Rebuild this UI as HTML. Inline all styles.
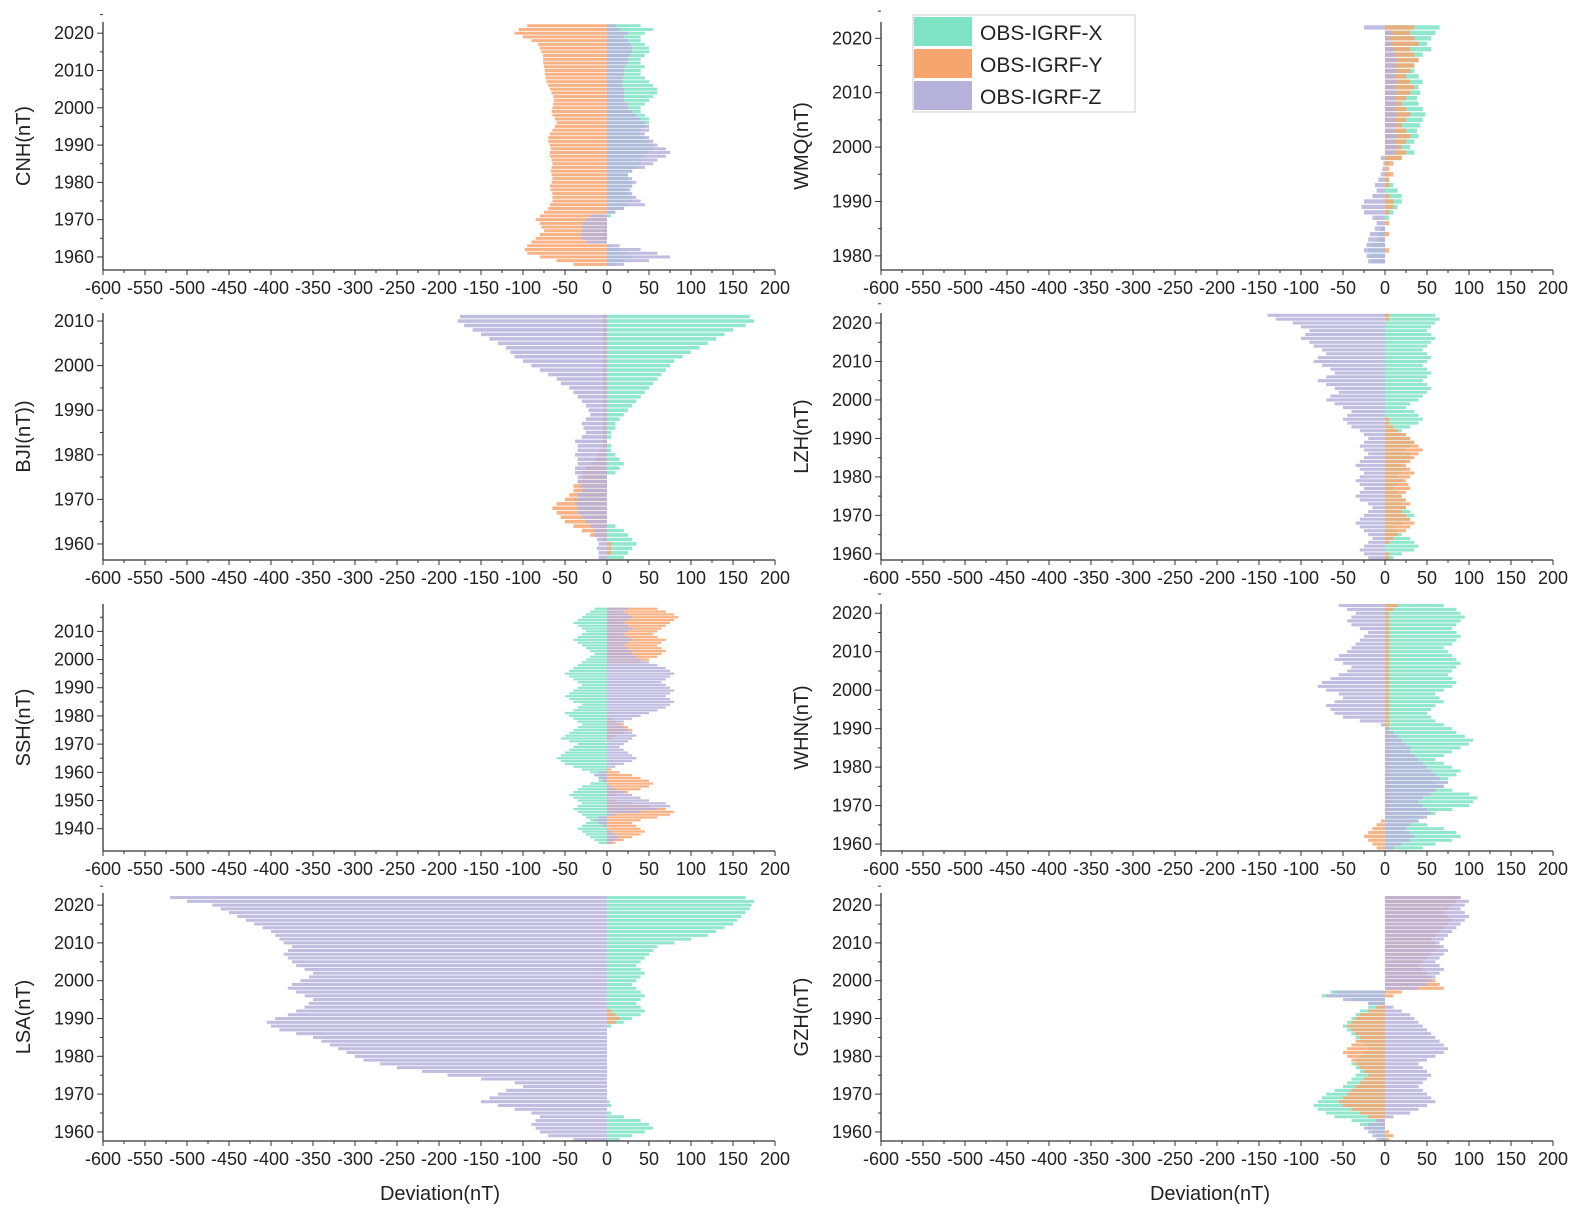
<!DOCTYPE html>
<html><head><meta charset="utf-8"><style>
html,body{margin:0;padding:0;background:#fff}
svg{display:block;font-family:"Liberation Sans",Arial,sans-serif}
</style></head><body>
<svg id="chart" width="1581" height="1229" viewBox="0 0 1581 1229" xmlns="http://www.w3.org/2000/svg">
<g id="legend">
<rect x="913" y="15" width="222" height="97" fill="#fff" stroke="#ccc" stroke-width="1"/>
<rect x="914" y="17" width="58" height="29" fill="#7de3c3"/>
<text x="980" y="40" font-size="21" fill="#222">OBS-IGRF-X</text>
<rect x="914" y="49" width="58" height="29" fill="#f7a56f"/>
<text x="980" y="72" font-size="21" fill="#222">OBS-IGRF-Y</text>
<rect x="914" y="81" width="58" height="29" fill="#b6b2dc"/>
<text x="980" y="104" font-size="21" fill="#222">OBS-IGRF-Z</text>
</g>
<text x="440" y="1200" font-size="20" text-anchor="middle" fill="#222">Deviation(nT)</text>
<text x="1210" y="1200" font-size="20" text-anchor="middle" fill="#222">Deviation(nT)</text>
</svg>
<script>
const xTicks = [-600,-550,-500,-450,-400,-350,-300,-250,-200,-150,-100,-50,0,50,100,150,200];

const cnhStart = 1958;
const cnhX = [10,20,30,25,15,5,0,-5,-5,-5,-5,0,0,5,10,20,25,30,30,25,25,30,30,25,25,30,35,40,40,45,50,55,55,50,45,40,40,45,50,50,45,40,40,45,50,55,60,60,55,50,45,40,40,45,40,40,45,50,50,45,40,40,45,55,40];
const cnhY = [-40,-60,-80,-95,-98,-95,-90,-85,-80,-75,-78,-80,-85,-80,-75,-70,-68,-65,-65,-65,-67,-68,-66,-65,-66,-67,-66,-65,-66,-68,-68,-67,-68,-70,-70,-68,-65,-62,-60,-62,-65,-66,-65,-64,-63,-64,-66,-68,-70,-72,-73,-74,-74,-75,-76,-76,-76,-78,-80,-82,-90,-100,-110,-105,-95];
const cnhZ = [20,50,75,60,40,15,-25,-30,-32,-30,-30,-28,-25,-20,10,20,45,40,35,30,28,30,35,30,25,30,45,55,60,70,75,70,60,55,50,45,50,50,45,40,35,30,25,25,20,20,20,20,18,18,18,20,20,22,25,25,28,30,30,28,25,20,25,15,10];

const wmqStart = 1979;
const wmqX = [-15,-18,-20,-15,-10,-8,-5,0,5,10,15,20,20,15,10,5,5,0,5,20,35,30,35,40,38,42,45,48,45,40,38,42,40,45,40,35,35,40,45,55,50,55,60,65];
const wmqY = [-5,0,5,0,-5,5,0,5,0,5,10,10,5,0,5,5,10,5,10,20,25,20,25,30,25,20,25,30,25,20,25,30,35,30,25,30,35,40,35,30,40,35,30,35];
const wmqZ = [-20,-22,-25,-22,-20,-18,-12,-10,-15,-25,-28,-25,-15,-10,-12,-8,-5,-3,-2,-5,12,14,12,14,12,14,12,14,12,14,12,14,12,14,12,14,12,14,12,10,8,5,8,-25];

const bjiStart = 1957;
const bjiX = [20,25,30,35,30,25,20,10,-10,-20,-30,-35,-38,-40,-35,-30,-20,-10,0,10,15,20,15,10,5,5,0,5,5,10,10,15,20,25,30,35,40,45,50,55,60,65,70,75,80,90,100,110,120,130,140,150,165,175,170];
const bjiY = [0,5,5,5,-5,-20,-30,-40,-50,-55,-60,-65,-60,-50,-45,-40,-40,-35,-30,-30,-25,-20,-15,-10,-8,-5,-5,-5,-5,-5,-5,-5,-5,-5,-5,-5,-5,-5,-5,-5,-5,-5,-5,-5,-5,-5,-5,-5,-5,-5,-5,-5,-5,-5,-5];
const bjiZ = [-10,-10,-12,-10,-12,-15,-15,-20,-25,-30,-35,-35,-38,-35,-35,-30,-32,-35,-35,-38,-38,-35,-35,-38,-35,-35,-38,-30,-25,-28,-30,-25,-20,-22,-25,-30,-35,-40,-45,-55,-60,-70,-80,-90,-100,-110,-115,-120,-130,-140,-150,-160,-170,-178,-175];

const lzhStart = 1959;
const lzhX = [10,20,35,40,35,30,20,15,10,20,30,35,30,25,20,25,20,15,10,15,20,15,20,25,20,25,30,30,25,30,35,30,25,20,30,40,45,40,35,25,30,40,45,50,55,50,45,50,55,50,45,50,55,50,45,50,55,60,55,50,55,60,65,60];
const lzhY = [5,5,0,0,5,10,15,25,30,35,30,25,20,25,30,25,20,25,30,28,25,30,35,30,25,30,35,40,45,40,35,30,25,15,10,5,5,0,0,0,0,0,0,0,0,0,0,0,0,0,0,0,0,0,0,0,0,0,0,0,0,0,5,5];
const lzhZ = [-20,-25,-30,-25,-20,-15,-20,-25,-30,-35,-30,-25,-20,-15,-20,-30,-35,-30,-25,-30,-35,-30,-25,-30,-35,-30,-25,-20,-25,-30,-25,-20,-25,-30,-40,-45,-50,-45,-40,-50,-60,-70,-65,-55,-60,-70,-80,-70,-60,-65,-75,-85,-80,-70,-75,-85,-90,-100,-95,-90,-100,-110,-130,-140];

const sshStart = 1935;
const sshX = [-10,-15,-20,-25,-30,-35,-30,-25,-20,-25,-30,-35,-40,-35,-30,-35,-40,-45,-40,-35,-30,-20,-10,-10,-15,-20,-30,-40,-50,-55,-60,-55,-50,-45,-40,-35,-45,-55,-50,-45,-40,-35,-30,-35,-40,-45,-50,-40,-35,-30,-40,-45,-50,-45,-40,-35,-30,-35,-40,-45,-50,-45,-40,-35,-30,-25,-20,-15,-20,-25,-30,-35,-40,-35,-30,-25,-30,-35,-40,-35,-30,-25,-20,-15];
const sshY = [10,20,30,40,45,40,35,30,40,60,75,80,70,50,30,10,0,10,25,40,50,55,50,40,30,15,5,0,0,0,0,0,0,0,0,0,0,5,10,20,30,25,20,10,5,0,0,0,0,0,0,0,0,0,0,0,0,0,0,0,0,0,0,0,40,50,60,65,70,65,60,65,70,60,55,60,65,70,75,80,85,80,70,60];
const sshZ = [5,10,15,10,5,0,-5,-10,-15,-10,10,40,60,75,70,50,40,30,20,10,5,0,-5,-10,-15,-10,0,10,20,30,35,30,25,20,15,20,25,30,35,30,25,20,15,20,30,40,50,60,70,75,80,75,70,75,80,75,70,65,70,75,80,75,70,60,50,40,35,30,30,25,20,25,30,25,20,25,30,25,20,25,30,25,20,25];

const whnStart = 1959;
const whnX = [45,60,80,90,85,70,50,40,45,60,80,100,105,110,100,80,70,60,75,85,90,80,70,60,70,80,90,100,105,95,85,80,70,60,55,50,55,60,70,65,60,70,80,85,80,75,80,85,90,85,80,75,70,80,85,90,85,80,85,90,95,90,85,70];
const whnY = [-10,-15,-20,-25,-20,-15,-10,-5,0,5,5,5,5,5,5,5,5,5,5,5,5,5,5,5,5,5,5,5,5,5,5,5,5,5,5,5,5,5,5,5,5,5,5,5,5,5,5,5,5,5,5,5,5,5,5,5,5,5,5,5,5,5,10,15];
const whnZ = [10,20,30,35,30,25,30,40,50,55,50,45,40,45,55,60,70,75,65,60,55,50,45,40,35,30,30,25,20,15,10,5,-5,-30,-50,-60,-65,-70,-60,-50,-55,-70,-80,-75,-65,-55,-45,-40,-50,-60,-55,-45,-40,-35,-30,-25,-20,-30,-40,-45,-40,-35,-45,-55];

const lsaStart = 1958;
const lsaX = [15,30,45,55,50,40,20,5,0,5,3,0,0,0,0,0,0,0,0,0,0,0,0,0,0,0,0,0,0,0,5,20,30,40,45,40,35,40,45,40,35,30,35,40,45,40,35,40,45,50,55,60,80,100,120,130,140,150,155,160,165,170,172,175,165];
const lsaY = [0,0,0,0,0,0,0,0,0,0,0,0,0,0,0,0,0,0,0,0,0,0,0,0,0,0,0,0,0,0,0,10,15,10,5,0,0,0,0,0,0,0,0,0,0,0,0,0,0,0,0,0,0,0,0,0,0,0,0,0,0,0,0,0,0];
const lsaZ = [-40,-70,-80,-85,-90,-85,-80,-90,-110,-130,-150,-140,-130,-120,-100,-110,-150,-190,-220,-250,-270,-290,-300,-310,-320,-330,-340,-350,-370,-390,-400,-405,-395,-380,-370,-360,-355,-350,-360,-370,-380,-375,-365,-355,-350,-360,-370,-375,-380,-385,-380,-375,-385,-390,-395,-400,-410,-420,-430,-440,-450,-460,-470,-500,-520];

const gzhStart = 1958;
const gzhX = [-5,-10,-15,-20,-30,-40,-60,-70,-80,-85,-80,-75,-70,-60,-50,-45,-40,-35,-30,-35,-40,-35,-30,-25,-20,-25,-30,-35,-40,-45,-50,-45,-40,-35,-30,-20,-20,-40,-75,-65,0,0,0,0,0,0,0,0,0,0,0,0,0,0,0,0,0,0,0,0,0,0,0,0,0];
const gzhY = [5,10,5,0,-5,-10,-20,-30,-40,-50,-55,-50,-45,-40,-35,-30,-25,-20,-25,-30,-35,-40,-45,-50,-45,-40,-35,-30,-35,-40,-45,-40,-35,-30,-20,-10,-5,0,10,20,70,65,60,55,50,45,40,45,50,55,60,65,60,55,60,65,70,75,80,75,70,75,80,85,90];
const gzhZ = [-10,-15,-20,-25,-20,-10,10,30,40,50,60,55,50,45,40,45,50,55,50,45,40,50,60,70,75,70,65,60,55,50,45,40,35,30,20,10,-20,-50,-70,-60,40,50,55,60,65,70,65,60,65,70,75,70,65,70,75,80,85,90,95,100,95,90,95,100,90];

const stations = ['CNH','WMQ','BJI','LZH','SSH','WHN','LSA','GZH'];
const yLabels = ['CNH(nT)','WMQ(nT)','BJI(nT))','LZH(nT)','SSH(nT)','WHN(nT)','LSA(nT)','GZH(nT)'];
const yearTicks = [[1960,1970,1980,1990,2000,2010,2020],[1980,1990,2000,2010,2020],[1960,1970,1980,1990,2000,2010],[1960,1970,1980,1990,2000,2010,2020],[1940,1950,1960,1970,1980,1990,2000,2010],[1960,1970,1980,1990,2000,2010,2020],[1960,1970,1980,1990,2000,2010,2020],[1960,1970,1980,1990,2000,2010,2020]];
const starts = [cnhStart,wmqStart,bjiStart,lzhStart,sshStart,whnStart,lsaStart,gzhStart];
const seriesX = [cnhX,wmqX,bjiX,lzhX,sshX,whnX,lsaX,gzhX];
const seriesY = [cnhY,wmqY,bjiY,lzhY,sshY,whnY,lsaY,gzhY];
const seriesZ = [cnhZ,wmqZ,bjiZ,lzhZ,sshZ,whnZ,lsaZ,gzhZ];

// layout (not data)
const layout = [
 {ax:103, top:22, bot:270, yb:1956.5, yt:2023.0},
 {ax:881, top:22, bot:270, yb:1977.4, yt:2023.0},
 {ax:103, top:313, bot:560, yb:1956.4, yt:2011.8},
 {ax:881, top:313, bot:560, yb:1958.4, yt:2022.6},
 {ax:103, top:604, bot:851, yb:1932.1, yt:2019.7},
 {ax:881, top:604, bot:851, yb:1958.2, yt:2022.4},
 {ax:103, top:893, bot:1141, yb:1957.6, yt:2023.2},
 {ax:881, top:893, bot:1141, yb:1957.6, yt:2023.2}
];
const colors = ['#7de3c3','#f7a56f','#b6b2dc'];
const comps = ['x','y','z'];
const NS = 'http://www.w3.org/2000/svg';
const svg = document.getElementById('chart');
const legend = document.getElementById('legend');
const pxPerNT = 0.84;

function mk(tag, attrs, parent){
  const e = document.createElementNS(NS, tag);
  for (const k in attrs) e.setAttribute(k, attrs[k]);
  parent.appendChild(e);
  return e;
}

stations.forEach((st, p) => {
  const L = layout[p];
  const g = mk('g', {}, svg);
  
  
  const xs = v => L.ax + (v + 600) * pxPerNT;
  const ys = yr => L.bot - (yr - L.yb) / (L.yt - L.yb) * (L.bot - L.top);
  const step = (L.bot - L.top) / (L.yt - L.yb);
  const th = Math.max(2, step * 0.8);
  const all = [seriesX[p], seriesY[p], seriesZ[p]];
  all.forEach((arr, c) => {
    arr.forEach((v, i) => {
      const yr = starts[p] + i;
      const x0 = xs(0), x1 = xs(v);
      const r = mk('rect', {x: Math.min(x0,x1), y: ys(yr) - th/2, width: Math.abs(x1-x0), height: th, fill: colors[c], 'fill-opacity': 0.85}, g);
      
      
    });
  });
  const ya = mk('line', {x1:L.ax, y1:L.top, x2:L.ax, y2:L.bot, stroke:'#333', 'stroke-width':1.3}, g);
  
  
  const xa = mk('line', {x1:L.ax, y1:L.bot, x2:xs(200), y2:L.bot, stroke:'#333', 'stroke-width':1.3}, g);
  
  
  xTicks.forEach(t => {
    mk('line', {x1:xs(t), y1:L.bot, x2:xs(t), y2:L.bot+5, stroke:'#333', 'stroke-width':1}, g);
    if (t < 200) mk('line', {x1:xs(t+25), y1:L.bot, x2:xs(t+25), y2:L.bot+3, stroke:'#333', 'stroke-width':1}, g);
    const tl = mk('text', {x:xs(t), y:L.bot+24, 'font-size':18, 'text-anchor':'middle', fill:'#222'}, g);
    tl.textContent = t;
    
    
  });
  yearTicks[p].forEach(yr => {
    mk('line', {x1:L.ax-6, y1:ys(yr), x2:L.ax, y2:ys(yr), stroke:'#333', 'stroke-width':1}, g);
    mk('line', {x1:L.ax-3, y1:ys(yr+5), x2:L.ax, y2:ys(yr+5), stroke:'#333', 'stroke-width':1}, g);
    const tl = mk('text', {x:L.ax-9, y:ys(yr)+6, 'font-size':18, 'text-anchor':'end', fill:'#222'}, g);
    tl.textContent = yr;
    
    
  });
  const cy = (L.top + L.bot) / 2;
  const lx = L.ax - 73;
  const yl = mk('text', {x:lx, y:cy, 'font-size':20, 'text-anchor':'middle', fill:'#222', transform:'rotate(-90 ' + lx + ' ' + cy + ')'}, g);
  yl.textContent = yLabels[p];
  
  
});
svg.appendChild(legend);
</script>
</body></html>
